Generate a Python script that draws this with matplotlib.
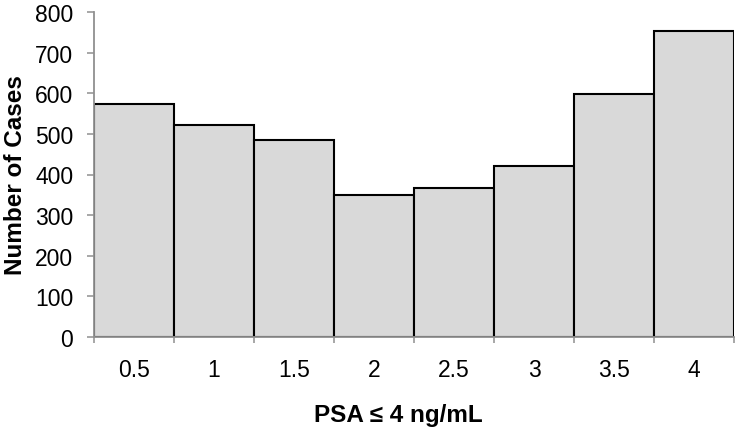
import matplotlib
matplotlib.use("Agg")
import matplotlib.pyplot as plt
import numpy as np

plt.rcParams['font.family'] = ['Liberation Sans', 'DejaVu Sans']

categories = ["0.5", "1", "1.5", "2", "2.5", "3", "3.5", "4"]
cases = [573, 521, 484, 350, 368, 422, 598, 753]
yticks = [0, 100, 200, 300, 400, 500, 600, 700, 800]

fig = plt.figure(figsize=(7.35, 4.35), dpi=100)
ax = fig.add_axes([94/735, 97/435, 640/735, 325/435])

x = np.arange(len(categories))
ax.bar(x, cases, width=1.0, color='#d9d9d9', edgecolor='black', linewidth=1.5, zorder=2)

ax.set_xlim(-0.5, len(categories) - 0.5)
ax.set_ylim(0, 800)
ax.set_yticks(yticks)
ax.set_yticklabels([str(v) for v in yticks], fontsize=16.5)
ax.set_xticks(x)
ax.set_xticklabels(categories, fontsize=16.5)
ax.set_xticks(np.arange(len(categories) + 1) - 0.5, minor=True)

ax.tick_params(axis='x', which='major', length=0, pad=15)
ax.tick_params(axis='x', which='minor', length=4.5, width=1.3, color='#a0a0a0', direction='out')
ax.tick_params(axis='y', which='major', length=5, width=1.3, color='#a0a0a0', pad=10)

for s in ['top', 'right']:
    ax.spines[s].set_visible(False)
for s in ['left', 'bottom']:
    ax.spines[s].set_color('#909090')
    ax.spines[s].set_linewidth(1.3)

ax.set_ylabel("Number of Cases", fontsize=17.5, fontweight='bold')
ax.yaxis.set_label_coords(-(94 - 27) / 640, 0.5)
ax.set_xlabel("PSA ≤ 4 ng/mL", fontsize=17.5, fontweight='bold')
ax.xaxis.set_label_coords((398 - 94) / 640, -(404 - 338) / 325)

fig.savefig("out.png", dpi=100)
